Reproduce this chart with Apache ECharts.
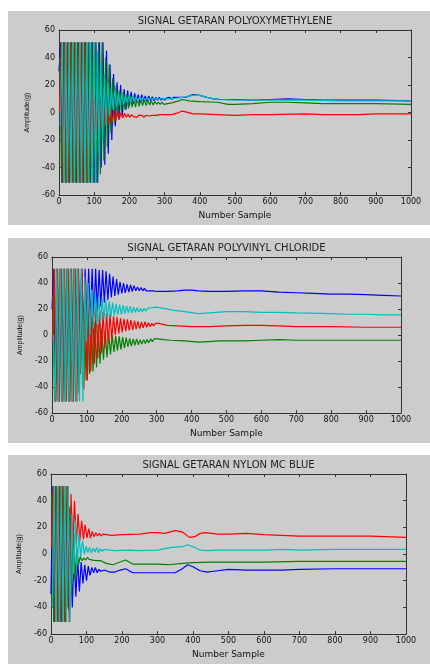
<!DOCTYPE html>
<html>
<head>
<meta charset="utf-8">
<title>Signal Getaran</title>
<script src="https://cdn.jsdelivr.net/npm/echarts@6/dist/echarts.min.js"></script>
<style>
  html, body { margin: 0; padding: 0; background: #fff; }
  .panel { position: absolute; left: 8px; width: 422px; background: #cccccc; }
</style>
</head>
<body>
<div id="pom" class="panel" style="top: 11px; height: 214px"></div>
<div id="pvc" class="panel" style="top: 238px; height: 205px"></div>
<div id="nylon" class="panel" style="top: 455px; height: 209px"></div>

<script>
// samples between two read extremes of the fast oscillation
const swingStep = 5

// ---- POLYOXYMETHYLENE ----
const pomBlueSwing = [30, 51, -51, 51, -51, 51, -51, 51, -51, 51, -51, 51, -51, 51, -51, 51, -51, 51, -51, 51, -51, 51, -51, 51, -40, 51,
  -38, 45, -30, 35, -20, 28, -10, 22, -5, 20, -2, 17, 2, 16, 5, 15, 6, 14, 7, 13, 7, 13, 8, 12, 8, 12, 8.5, 11.5, 8.5, 11, 9, 11, 9, 10.5,
  9, 10.5, 9.5, 11, 9.5, 11, 10, 11, 10]
const pomBlueTail = [[360, 11], [380, 13], [400, 12.5], [420, 11], [440, 10], [460, 9.5], [500, 9.5], [550, 9], [600, 9.5], [650, 10],
  [700, 9.5], [750, 9], [800, 9], [900, 9], [1000, 8.5]]
const pomGreenSwing = [40, -51, 51, -51, 51, -51, 51, -51, 51, -51, 51, -51, 51, -51, 51, -51, 51, -51, 51, -51, 51, -51, 51, -45, 51,
  -35, 40, -25, 35, -15, 25, -8, 20, -3, 16, 0, 15, 2, 13, 3, 12, 4, 11, 4, 10.5, 4.5, 10, 5, 9.5, 5, 9, 5.5, 8.5, 5.5, 8, 6, 7.5, 6,
  7.5, 6, 7]
const pomGreenTail = [[320, 7], [340, 8.5], [350, 9.5], [370, 8.5], [400, 8], [450, 7.5], [480, 6], [500, 6], [550, 6.5], [600, 7.5],
  [650, 7.5], [700, 7], [750, 6.5], [800, 6.5], [900, 6.5], [1000, 6]]
const pomRedSwing = [0, 51, -51, 51, -51, 51, -51, 51, -51, 51, -51, 51, -51, 51, -51, 51, -51, 30, -40, 20, -25, 12, -15, 8, -12, 6,
  -10, 4, -8, 3, -7, 2, -6, 1, -5, 0, -4, -0.5, -3.5, -1, -3.5, -1.5, -3, -2, -3.5, -2, -3, -2, -3.5, -2, -3, -2.5, -3.5, -2, -3, -2,
  -2.5, -1.5, -2.5, -1.5, -2.5]
const pomRedTail = [[320, -1.5], [340, 0], [350, 1], [360, 0.5], [380, -1], [400, -1], [450, -1.5], [500, -2], [550, -1.5], [600, -1.5],
  [700, -1], [750, -1.5], [800, -1.5], [850, -1.5], [900, -1], [1000, -1]]
const pomCyanSwing = [-10, 51, -51, 51, -51, 51, -51, 51, -51, 51, -51, 51, -51, 51, -51, 51, -51, 51, -51, 51, -51, 45, -30, 35, -20,
  28, -10, 22, -3, 18, 2, 16, 4, 15, 5, 14, 6, 13, 7, 12.5, 7.5, 12, 8, 11.5, 8.5, 11, 9, 11, 9.5, 10.5, 10]
const pomCyanTail = [[280, 10], [320, 10], [350, 11], [380, 12.5], [400, 12.5], [420, 11], [450, 9.5], [500, 9], [600, 9], [700, 9],
  [800, 8.5], [900, 8.5], [1000, 8.5]]

// ---- POLYVINYL CHLORIDE ----
const pvcBlueSwing = [20, 51, -51, 51, -51, 51, -51, 51, -51, 51, -51, 51, -51, 51, 0, 51, 5, 51, 3, 51, 8, 51, 10, 51, 14, 51, 18, 50,
  22, 50, 25, 49, 27, 47, 29, 45, 30, 43, 31, 41, 32, 40, 32.5, 39, 33, 38.5, 33.5, 38, 34, 37, 34, 36.5, 34, 36, 34, 35.5, 34, 35, 34,
  34.5, 33.5, 34.5, 33.5, 34, 33.5, 34, 33.5, 33.5]
const pvcBlueTail = [[360, 34], [380, 34.5], [400, 34.5], [420, 34], [450, 33.5], [500, 33.5], [550, 34], [600, 34], [650, 33],
  [700, 32.5], [750, 32], [800, 31.5], [850, 31.5], [900, 31], [950, 30.5], [1000, 30]]
const pvcGreenSwing = [30, -51, 51, -51, 51, -51, 51, -51, 51, -51, 51, -51, 51, -51, 51, -45, 30, -40, 25, -35, 18, -30, 14, -28, 10,
  -25, 8, -22, 5, -19, 3, -17, 1, -15, 0, -13, -0.5, -12, -1, -11, -1.5, -10, -2, -9, -2.5, -8.5, -3, -8, -3, -7.5, -3.5, -7, -3.5,
  -6.5, -3.5, -6, -3, -5, -3, -4.5, -3]
const pvcGreenTail = [[320, -3.5], [340, -4], [380, -4.5], [420, -5.5], [450, -5], [480, -4.5], [550, -4.5], [600, -4], [650, -3.5],
  [700, -4], [800, -4], [900, -4], [1000, -4]]
const pvcRedSwing = [-5, 51, -51, 51, -51, 51, -51, 51, -51, 51, -51, 51, -51, 51, -51, 51, -30, 51, -42, 40, -35, 30, -28, 26, -22,
  22, -18, 20, -14, 18, -10, 17, -6, 16, -3, 14.5, 0, 14, 1, 13, 2, 12.5, 3, 12, 3.5, 11.5, 4, 11, 4.5, 10.5, 5, 10, 5.5, 10, 6, 9.5,
  6.5, 9, 7, 9, 7.5, 9, 8]
const pvcRedTail = [[330, 7.5], [360, 7], [400, 6.5], [450, 6.5], [500, 7], [550, 7.5], [600, 7.5], [650, 7], [700, 6.5], [800, 6.5],
  [900, 6], [1000, 6]]
const pvcCyanSwing = [0, -51, 51, -51, 51, -51, 51, -51, 51, -51, 51, -51, 51, -51, 51, -51, 51, -51, 45, -5, 40, 0, 35, 5, 32, 8, 30,
  10, 28, 12, 27, 13, 26, 14, 25, 15, 24, 15.5, 23.5, 16, 23, 16.5, 22.5, 17, 22, 17, 21.5, 17.5, 21, 17.5, 20.5, 18, 20.5, 18.5, 20.5,
  19.5, 21, 20.5]
const pvcCyanTail = [[300, 21.5], [320, 20.5], [350, 19], [380, 18], [420, 16.5], [450, 17], [500, 18], [550, 18], [600, 17.5],
  [650, 17.5], [700, 17], [800, 16.5], [850, 16], [900, 16], [950, 15.5], [1000, 15.5]]

// ---- NYLON MC BLUE ----
const nylonBlueSwing = [-30, 51, -51, 30, -51, 51, -51, 26, -51, 15, -42, 5, -40, 0, -32, -4, -28, -6, -22, -8, -20, -9, -16, -10,
  -14, -10, -14, -11.5, -13]
const nylonBlueTail = [[150, -12], [165, -13.5], [180, -13.5], [195, -12], [210, -11], [230, -14], [260, -14], [300, -14], [350, -14],
  [370, -11], [385, -8], [400, -9.5], [420, -12.5], [440, -13.5], [470, -12.5], [500, -11.5], [550, -12], [600, -12], [650, -12],
  [700, -11.5], [800, -11], [900, -11], [1000, -11]]
const nylonGreenSwing = [45, -51, 51, -51, 51, -51, 51, -51, 51, -40, 35, -30, 20, -20, 5, -8, -2, -5, -3, -4.5, -2.5, -4, -3, -4.5,
  -3.5, -5, -4]
const nylonGreenTail = [[140, -5], [155, -7], [175, -8], [195, -6], [210, -4.5], [230, -7.5], [260, -7.5], [300, -7.5], [330, -8],
  [370, -7], [400, -6.5], [450, -6], [500, -6], [600, -6], [700, -5.5], [800, -5.5], [900, -5.5], [1000, -5.5]]
const nylonRedSwing = [5, 51, -51, 51, -51, 51, -51, 51, -51, 51, -51, 45, 5, 40, 8, 30, 10, 25, 11, 22, 12, 19, 12, 17, 13, 16, 13.5,
  15.5, 13.5, 15, 14]
const nylonRedTail = [[170, 14], [200, 14.5], [250, 15], [280, 16], [300, 16], [320, 15.5], [350, 17.5], [370, 16.5], [390, 12.5],
  [405, 13], [420, 15.5], [435, 16], [470, 15], [500, 15], [550, 15.5], [600, 14.5], [650, 14], [700, 13.5], [800, 13.5], [900, 13.5],
  [1000, 12.5]]
const nylonCyanSwing = [-40, 51, -51, 51, -51, 51, -51, 51, -51, 51, -51, 30, -15, 25, -8, 15, -2, 10, 0, 6, 1, 5, 1, 4.5, 1.5, 5, 1,
  4, 2, 3.5, 3]
const nylonCyanTail = [[180, 2.5], [220, 3], [250, 2.5], [300, 3], [340, 5], [370, 5.5], [385, 7], [400, 5.5], [420, 3], [440, 2.5],
  [470, 3], [500, 3], [550, 3], [600, 3], [650, 3.5], [700, 3], [800, 3.5], [900, 3.5], [1000, 3.5]]

const xRange = { min: 0, max: 1000, interval: 100 }
const yRange = { min: -60, max: 60, interval: 20 }

const colors = { blue: '#0000ff', green: '#008000', red: '#ff0000', cyan: '#00bfbf' }
// phase shift (in samples) so the strokes of the four channels interleave
const phase = { blue: 0, green: 2.5, red: 1.25, cyan: 3.75 }

const toPoints = (swing, tail, offset) =>
  swing.map((v, i) => [offset + i * swingStep, v]).concat(tail)

const lineColor = '#333'
const textColor = '#111'
const fontFamily = 'DejaVu Sans'
const plainNumber = (v) => String(v)

const makeOption = (title, grid, channels) => ({
  animation: false,
  textStyle: { fontFamily },
  grid: grid,
  xAxis: [
    {
      type: 'value', ...xRange, position: 'bottom',
      axisLine: { show: true, onZero: false, lineStyle: { color: lineColor } },
      axisTick: { inside: true, length: 3, lineStyle: { color: lineColor } },
      axisLabel: { color: textColor, fontSize: 8, margin: 3, formatter: plainNumber },
      splitLine: { show: false },
      name: 'Number Sample', nameLocation: 'middle', nameGap: 12,
      nameTextStyle: { color: textColor, fontSize: 9 },
    },
    {
      type: 'value', ...xRange, position: 'top',
      axisLine: { show: true, onZero: false, lineStyle: { color: lineColor } },
      axisTick: { inside: true, length: 3, lineStyle: { color: lineColor } },
      axisLabel: { show: false },
      splitLine: { show: false },
      name: title, nameLocation: 'middle', nameGap: 4,
      nameTextStyle: { color: '#222', fontSize: 10 },
    },
  ],
  yAxis: [
    {
      type: 'value', ...yRange, position: 'left',
      axisLine: { show: true, onZero: false, lineStyle: { color: lineColor } },
      axisTick: { inside: true, length: 3, lineStyle: { color: lineColor } },
      axisLabel: { color: textColor, fontSize: 8, margin: 4, formatter: plainNumber },
      splitLine: { show: false },
      name: 'Amplitude(g)', nameLocation: 'middle', nameGap: 28, nameRotate: 90,
      nameTextStyle: { color: textColor, fontSize: 7, fontFamily: 'Liberation Sans' },
    },
    {
      type: 'value', ...yRange, position: 'right',
      axisLine: { show: true, onZero: false, lineStyle: { color: lineColor } },
      axisTick: { inside: true, length: 3, lineStyle: { color: lineColor } },
      axisLabel: { show: false },
      splitLine: { show: false },
    },
  ],
  series: channels.map((c) => ({
    type: 'line',
    data: toPoints(c.swing, c.tail, phase[c.name]),
    showSymbol: false,
    silent: true,
    lineStyle: { width: 1.2, color: colors[c.name] },
    itemStyle: { color: colors[c.name] },
  })),
})

const charts = [
  {
    el: 'pom', title: 'SIGNAL GETARAN POLYOXYMETHYLENE',
    grid: { left: 51, top: 13, width: 352, height: 180 },
    channels: [
      { name: 'blue', swing: pomBlueSwing, tail: pomBlueTail },
      { name: 'green', swing: pomGreenSwing, tail: pomGreenTail },
      { name: 'red', swing: pomRedSwing, tail: pomRedTail },
      { name: 'cyan', swing: pomCyanSwing, tail: pomCyanTail },
    ],
  },
  {
    el: 'pvc', title: 'SIGNAL GETARAN POLYVINYL CHLORIDE',
    grid: { left: 44, top: 13, width: 349, height: 170 },
    channels: [
      { name: 'blue', swing: pvcBlueSwing, tail: pvcBlueTail },
      { name: 'green', swing: pvcGreenSwing, tail: pvcGreenTail },
      { name: 'red', swing: pvcRedSwing, tail: pvcRedTail },
      { name: 'cyan', swing: pvcCyanSwing, tail: pvcCyanTail },
    ],
  },
  {
    el: 'nylon', title: 'SIGNAL GETARAN NYLON MC BLUE',
    grid: { left: 39, top: 13, width: 359, height: 180 },
    channels: [
      { name: 'blue', swing: nylonBlueSwing, tail: nylonBlueTail },
      { name: 'green', swing: nylonGreenSwing, tail: nylonGreenTail },
      { name: 'red', swing: nylonRedSwing, tail: nylonRedTail },
      { name: 'cyan', swing: nylonCyanSwing, tail: nylonCyanTail },
    ],
  },
]

charts.forEach((c) => {
  const chart = echarts.init(document.getElementById(c.el))
  chart.setOption(makeOption(c.title, c.grid, c.channels))
})
</script>
</body>
</html>
